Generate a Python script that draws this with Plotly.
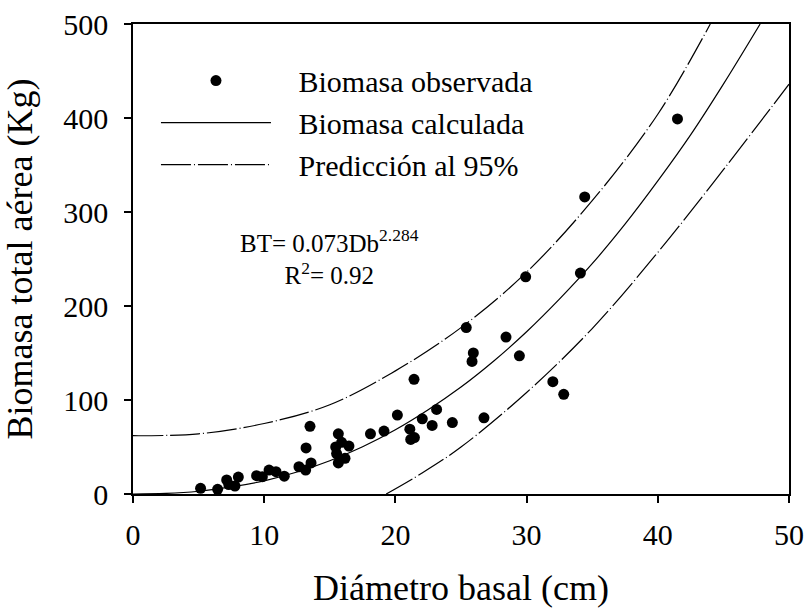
import plotly.graph_objects as go

# Observed data (diámetro basal cm, biomasa kg)
obs_d = [5.15, 6.45, 7.14, 7.3, 7.77, 8.03, 9.42, 9.86, 10.37, 10.9, 11.53, 12.65,
         13.16, 13.19, 13.49, 13.57, 15.45, 15.52, 15.65, 15.65, 15.9, 16.16, 16.46,
         18.1, 19.13, 20.15, 21.1, 21.17, 21.45, 21.42, 22.05, 22.8, 23.14, 24.34,
         25.4, 25.84, 25.94, 26.75, 28.43, 29.45, 29.93, 32.0, 32.83, 34.1, 34.43, 41.5]
obs_b = [6, 5, 15, 10, 8.5, 18, 19.5, 18.4, 25.5, 23.7, 19, 29,
         25.5, 49, 72, 33, 50, 43, 64, 33, 55, 38, 51,
         64, 67, 84, 69, 58, 60, 122, 80, 73, 90, 76,
         177, 141, 150, 81, 167, 147, 231, 119.5, 106, 235, 316, 399]

# Fitted curve
fit_d = [0, 2.5, 5, 7.5, 10, 12.5, 15, 17.5, 20, 22.5, 25, 27.5, 30, 32.5, 35, 37.5, 40, 42.5, 45, 47.8]
fit_b = [0, 0.6, 2.9, 7.5, 14.0, 23.4, 35.4, 50.3, 68.4, 89.7, 113.8, 141.5, 172.6, 207.3, 245, 287, 333, 382, 436, 500]

# 95% prediction band
up_d = [0, 5, 10, 15, 20, 25, 30, 35, 40, 44]
up_b = [62, 64, 75, 95, 131, 177, 236, 312, 404, 500]
lo_d = [19.3, 22, 25, 30, 35, 40, 45, 50]
lo_b = [0, 22, 50, 108, 176, 257, 345, 436]

FONT = "Liberation Serif"
DASH = "30px,3px,1px,3px"
SP = "\u00a0\u00a0\u00a0"

fig = go.Figure()
fig.add_trace(go.Scatter(x=obs_d, y=obs_b, mode="markers", name=SP + "Biomasa observada",
                         marker=dict(color="black", size=11), cliponaxis=False))
fig.add_trace(go.Scatter(x=fit_d, y=fit_b, mode="lines", name=SP + "Biomasa calculada",
                         line=dict(color="black", width=1.2, shape="spline")))
fig.add_trace(go.Scatter(x=up_d, y=up_b, mode="lines", name=SP + "Predicción al 95%",
                         line=dict(color="black", width=1.2, dash=DASH, shape="spline")))
fig.add_trace(go.Scatter(x=lo_d, y=lo_b, mode="lines", showlegend=False,
                         line=dict(color="black", width=1.2, dash=DASH, shape="spline")))

fig.add_annotation(x=0.30, y=0.505, xref="paper", yref="paper", showarrow=False,
                   xanchor="center", yanchor="middle",
                   text="BT= 0.073Db<sup>2.284</sup><br>R<sup>2</sup>= 0.92",
                   font=dict(family=FONT, size=25, color="black"), align="center")

fig.update_layout(
    width=809, height=608,
    margin=dict(l=133, r=20, t=24, b=114, autoexpand=False),
    paper_bgcolor="white", plot_bgcolor="white",
    font=dict(family=FONT, size=30, color="black"),
    showlegend=True,
    legend=dict(x=0.035, y=0.935, xanchor="left", yanchor="top",
                bgcolor="rgba(0,0,0,0)", itemwidth=110,
                font=dict(family=FONT, size=30), tracegroupgap=0),
    xaxis=dict(range=[0, 50], tickvals=[0, 10, 20, 30, 40, 50], automargin=False,
               showline=True, linecolor="black", linewidth=1.5, mirror=True,
               ticks="outside", ticklen=7, tickcolor="black", tickwidth=1.5,
               showgrid=False, zeroline=False, ticklabelstandoff=6,
               title=dict(text="Diámetro basal (cm)", standoff=32),
               tickfont=dict(size=30)),
    yaxis=dict(range=[0, 500], tickvals=[0, 100, 200, 300, 400, 500], automargin=False,
               showline=True, linecolor="black", linewidth=1.5, mirror=True,
               ticks="outside", ticklen=7, tickcolor="black", tickwidth=1.5,
               showgrid=False, zeroline=False, ticklabelstandoff=10,
               title=dict(text="Biomasa total aérea (Kg)", standoff=25),
               tickfont=dict(size=30)),
)

fig.write_html("out.html")
